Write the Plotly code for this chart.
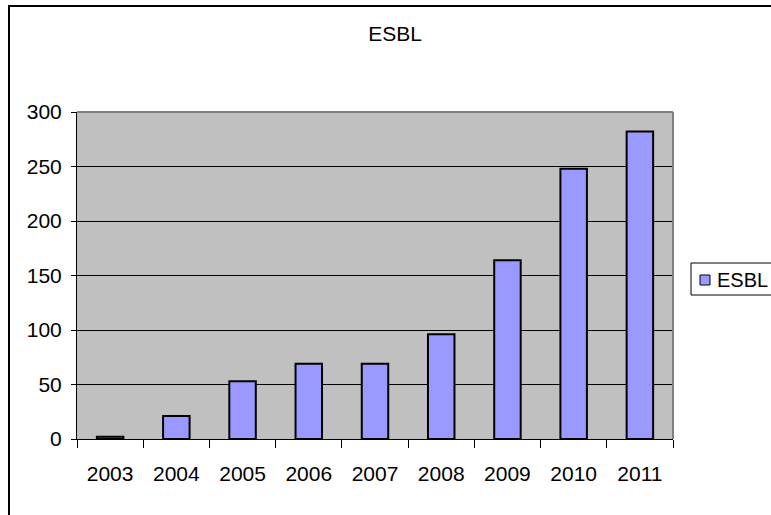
import plotly.graph_objects as go

# ESBL counts per year
years = ["2003", "2004", "2005", "2006", "2007", "2008", "2009", "2010", "2011"]
esbl = [2, 21, 53, 69, 69, 96, 164, 248, 282]
y_ticks = [0, 50, 100, 150, 200, 250, 300]
series_name = "ESBL"
bar_color = "#9999FF"

W, H = 771, 515
L, R, T, B = 77, 98, 112, 76
pw, ph = W - L - R, H - T - B


def px_x(x):
    return (x - L) / pw


def px_y(y):
    return (H - B - y) / ph


fig = go.Figure()
fig.add_trace(go.Bar(
    x=years, y=esbl, name=series_name, showlegend=False,
    marker=dict(color=bar_color, line=dict(color="black", width=2)),
))

font = dict(family="Liberation Sans, Arial, sans-serif", size=21, color="black")

fig.update_layout(
    width=W, height=H,
    margin=dict(l=L, r=R, t=T, b=B, pad=0, autoexpand=False),
    paper_bgcolor="white",
    plot_bgcolor="#C0C0C0",
    font=font,
    bargap=0.6,
    title=dict(text=series_name, x=395 / W, xref="container", y=1 - 34 / H,
               yref="container", yanchor="middle", xanchor="center", font=font),
    xaxis=dict(
        type="category", tickson="boundaries", ticks="outside", ticklen=8,
        tickcolor="black", showline=True, linecolor="black", linewidth=1,
        showgrid=False, ticklabelstandoff=16, mirror=False,
    ),
    yaxis=dict(
        range=[0, 300], tickvals=y_ticks, ticks="outside", ticklen=5,
        tickcolor="black", showline=True, linecolor="black", linewidth=1,
        showgrid=True, gridcolor="black", gridwidth=1, zeroline=False,
        ticklabelstandoff=5,
    ),
    shapes=[
        # grey border on the open sides of the plot area
        dict(type="line", xref="paper", yref="paper", x0=0, x1=1, y0=1, y1=1,
             line=dict(color="#808080", width=2)),
        dict(type="line", xref="paper", yref="paper", x0=1, x1=1, y0=0, y1=1,
             line=dict(color="#808080", width=2)),
        # chart frame
        dict(type="rect", xref="paper", yref="paper",
             x0=px_x(9), x1=px_x(780), y0=px_y(525), y1=px_y(6),
             line=dict(color="black", width=2), layer="above"),
        # legend box and swatch
        dict(type="rect", xref="paper", yref="paper",
             x0=px_x(691), x1=px_x(790), y0=px_y(295), y1=px_y(263),
             fillcolor="white", line=dict(color="black", width=1)),
        dict(type="rect", xref="paper", yref="paper",
             x0=px_x(700), x1=px_x(710), y0=px_y(285), y1=px_y(275),
             fillcolor=bar_color, line=dict(color="black", width=1)),
    ],
    annotations=[
        dict(text=series_name, xref="paper", yref="paper", x=px_x(715), y=px_y(280),
             xanchor="left", yanchor="middle", showarrow=False,
             font=dict(family=font["family"], size=20, color="black")),
    ],
)

fig.write_html("out.html")
